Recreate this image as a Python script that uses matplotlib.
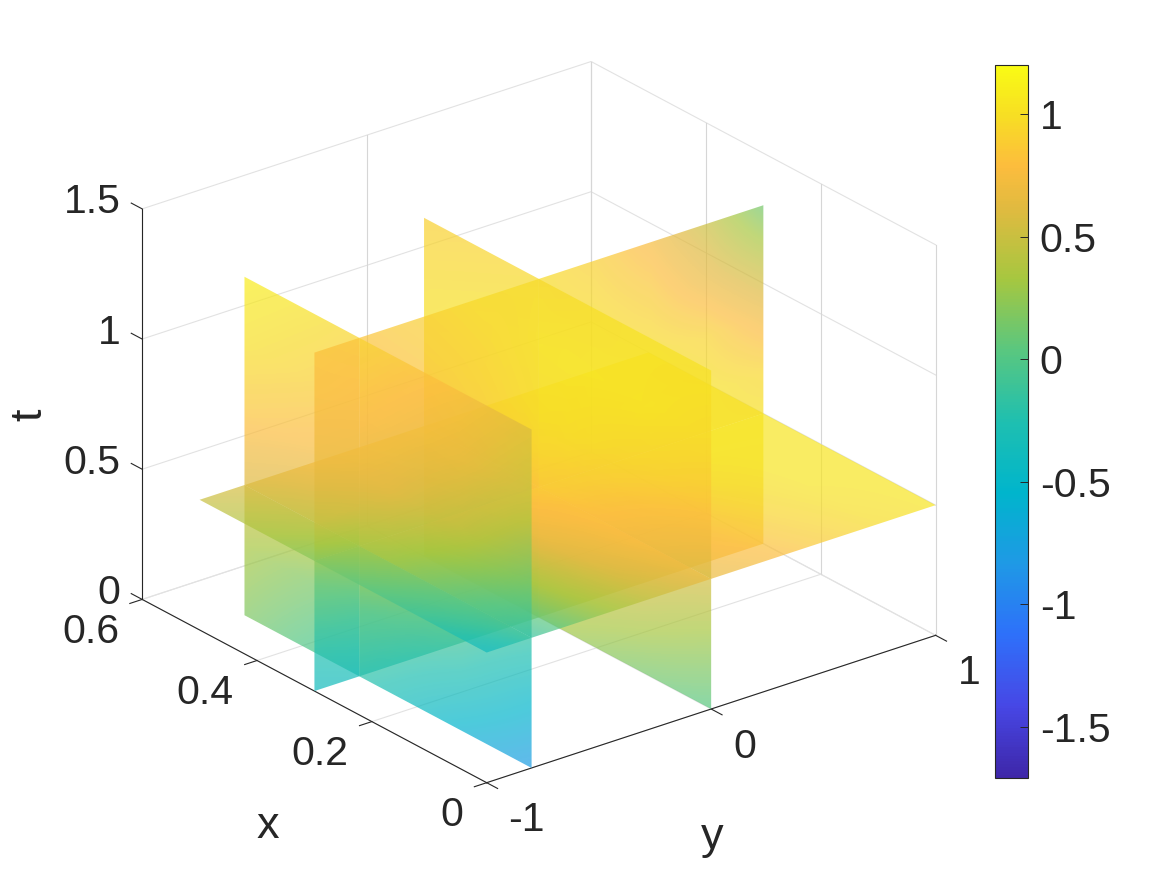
import numpy as np
import matplotlib
matplotlib.use('Agg')
import matplotlib.pyplot as plt
from matplotlib.colors import LinearSegmentedColormap, Normalize
from matplotlib.cm import ScalarMappable
from matplotlib.path import Path
from matplotlib.transforms import Affine2D
from mpl_toolkits.mplot3d import proj3d

plt.rcParams['font.family'] = ['Liberation Sans', 'DejaVu Sans']

# axis ticks
x_ticks = [0, 0.2, 0.4, 0.6]
x_labels = ['0', '0.2', '0.4', '0.6']
y_ticks = [-1, 0, 1]
y_labels = ['-1', '0', '1']
t_ticks = [0, 0.5, 1, 1.5]
t_labels = ['0', '0.5', '1', '1.5']
cbar_ticks = [-1.5, -1, -0.5, 0, 0.5, 1]
cbar_labels = ['-1.5', '-1', '-0.5', '0', '0.5', '1']
clim = (-1.71, 1.2)

# slice positions and the evenly spaced nodes the values were read at
x_slice = 0.3
y_slices = [-0.8, 0]
t_slice = 0.5
x_nodes = [0, 0.125, 0.25, 0.375, 0.5]
y_nodes = [-1, -0.75, -0.5, -0.25, 0, 0.25, 0.5, 0.75, 1]
t_nodes = [0, 0.26, 0.52, 0.78, 1.04, 1.3]
t_nodes_x = [0, 0.2167, 0.4333, 0.65, 0.8667, 1.0833, 1.3]

# t = 0.5, rows along x, columns along y
v_t = [[-0.40, -0.08, 0.25, 0.50, 0.68, 0.76, 0.88, 0.98, 1.04],
       [-0.12, 0.05, 0.35, 0.62, 0.78, 0.85, 0.95, 1.03, 1.05],
       [0.10, 0.22, 0.50, 0.74, 0.82, 0.95, 1.03, 1.05, 1.05],
       [0.32, 0.42, 0.64, 0.82, 0.95, 1.02, 1.05, 1.05, 1.05],
       [0.50, 0.58, 0.75, 0.92, 1.02, 1.05, 1.05, 1.05, 1.05]]

# x = 0.3, rows along t, columns along y
v_x = [[-0.40, -0.33, -0.22, -0.05, 0.25, 0.45, 0.62, 0.75, 0.85],
       [-0.18, -0.12, 0.00, 0.22, 0.50, 0.68, 0.80, 0.88, 0.93],
       [0.10, 0.20, 0.35, 0.55, 0.78, 0.92, 1.00, 1.02, 1.03],
       [0.50, 0.57, 0.66, 0.80, 0.93, 1.02, 1.05, 1.02, 0.95],
       [0.68, 0.72, 0.78, 0.88, 0.98, 1.03, 1.00, 0.92, 0.72],
       [0.76, 0.78, 0.84, 0.92, 1.00, 0.98, 0.88, 0.68, 0.45],
       [0.80, 0.84, 0.90, 0.97, 0.98, 0.90, 0.75, 0.50, 0.12]]

# y = -0.8, rows along t, columns along x
v_y1 = [[-0.82, -0.58, -0.30, -0.05, 0.18],
        [-0.52, -0.22, -0.02, 0.15, 0.33],
        [-0.15, 0.10, 0.35, 0.50, 0.62],
        [0.15, 0.42, 0.62, 0.75, 0.84],
        [0.42, 0.62, 0.76, 0.90, 1.00],
        [0.58, 0.76, 0.88, 1.00, 1.10]]

# y = 0, rows along t, columns along x
v_y2 = [[0.02, 0.15, 0.30, 0.42, 0.55],
        [0.28, 0.45, 0.58, 0.72, 0.80],
        [0.58, 0.72, 0.85, 0.95, 1.00],
        [0.82, 0.90, 0.98, 1.02, 1.02],
        [0.95, 1.02, 1.04, 1.02, 0.98],
        [1.02, 1.03, 0.98, 0.94, 0.90]]

parula = LinearSegmentedColormap.from_list('parula', [
    (0.00, (0.2422, 0.1504, 0.6603)),
    (0.10, (0.2780, 0.2800, 0.9000)),
    (0.20, (0.1800, 0.4400, 0.9800)),
    (0.30, (0.1200, 0.6000, 0.9000)),
    (0.40, (0.0000, 0.7100, 0.8000)),
    (0.50, (0.1200, 0.7500, 0.6900)),
    (0.60, (0.3500, 0.7800, 0.5000)),
    (0.70, (0.6500, 0.7800, 0.2500)),
    (0.80, (0.8800, 0.7300, 0.2500)),
    (0.86, (0.9900, 0.7400, 0.2400)),
    (0.93, (0.9700, 0.8700, 0.1400)),
    (1.00, (0.9760, 0.9840, 0.0800))])
norm = Normalize(*clim)

W, H = 1167, 875
fig = plt.figure(figsize=(W / 100, H / 100), dpi=100)

ax = fig.add_axes([87 / W, 1 / H, 880 / W, 880 / H], projection='3d')
ax.set_proj_type('ortho')
ax.set_xlim(0.6, 0)
ax.set_ylim(-1, 1)
ax.set_zlim(0, 1.5)
ax.set_box_aspect((0.977, 1, 0.753))
ax.view_init(elev=24.7, azim=-38.15)
ax.set_axis_off()
M = ax.get_proj()

# slices and labels go on a flat axes above the 3d one, in the same screen frame
over = fig.add_axes(ax.get_position(), facecolor='none')
over.set_axis_off()


def project(x, y, t):
    sx, sy, _ = proj3d.proj_transform(np.asarray(x, float), np.asarray(y, float),
                                      np.asarray(t, float), M)
    return sx, sy


def label3d(x, y, t, s, ha):
    sx, sy = project(x, y, t)
    over.text(float(sx), float(sy), s, ha=ha, va='center', fontsize=29.5, color=line_c,
              transform=ax.transData)


# grid on the back walls and the floor
grid_c = '#e2e2e2'
grid_v = '#d6d6d6'
grid_w = 0.8
for t in t_ticks:
    ax.plot([0.6, 0.6, 0], [-1, 1, 1], [t, t, t], color=grid_c, lw=grid_w)
for y in y_ticks:
    ax.plot([0.6, 0.6], [y, y], [0, 1.5], color=grid_v, lw=grid_w)
    ax.plot([0, 0.6], [y, y], [0, 0], color=grid_c, lw=grid_w)
for x in x_ticks:
    ax.plot([x, x], [1, 1], [0, 1.5], color=grid_v, lw=grid_w)
    ax.plot([x, x], [-1, 1], [0, 0], color=grid_c, lw=grid_w)

# axis lines and ticks
line_c = '#262626'
ax.plot([0, 0.6], [-1, -1], [0, 0], color=line_c, lw=0.8)
ax.plot([0, 0], [-1, 1], [0, 0], color=line_c, lw=0.8)
ax.plot([0.6, 0.6], [-1, -1], [0, 1.5], color=line_c, lw=0.8)
for x, s in zip(x_ticks, x_labels):
    ax.plot([x, x], [-1, -1.055], [0, 0], color=line_c, lw=0.8)
    label3d(x, -1.103, -0.096, s, 'right')
for y, s in zip(y_ticks, y_labels):
    ax.plot([0, -0.019], [y, y], [0, 0], color=line_c, lw=0.8)
    label3d(-0.038, y, -0.1, s, 'left')
for t, s in zip(t_ticks, t_labels):
    ax.plot([0.6, 0.619], [-1, -1], [t, t], color=line_c, lw=0.8)
    label3d(0.638, -1, t - 0.02, s, 'right')

fig.text(268 / W, 1 - 826 / H, 'x', ha='center', va='center', fontsize=32.5, color=line_c)
fig.text(712 / W, 1 - 838 / H, 'y', ha='center', va='center', fontsize=32.5, color=line_c)
fig.text(30 / W, 1 - 415 / H, 't', ha='center', va='center', rotation=90, fontsize=32.5, color=line_c)

# each slice is cut along the others, the pieces get painted back to front
pieces = []


def add_slice(to3d, u_nodes, v_nodes, vals, u_cuts, v_cuts):
    u0, u1 = u_nodes[0], u_nodes[-1]
    v0, v1 = v_nodes[0], v_nodes[-1]
    du = (u1 - u0) / (len(u_nodes) - 1)
    dv = (v1 - v0) / (len(v_nodes) - 1)
    ox, oy = project(*to3d(0, 0))
    ax_, ay_ = project(*to3d(1, 0))
    bx_, by_ = project(*to3d(0, 1))
    plane = Affine2D(np.array([[ax_ - ox, bx_ - ox, ox],
                               [ay_ - oy, by_ - oy, oy],
                               [0, 0, 1]], float))
    us = [u0] + u_cuts + [u1]
    vs = [v0] + v_cuts + [v1]
    for a, b in zip(us[:-1], us[1:]):
        for c, d in zip(vs[:-1], vs[1:]):
            centre = to3d((a + b) / 2, (c + d) / 2)
            pieces.append((centre, plane, (a, b, c, d), vals,
                           (u0 - du / 2, u1 + du / 2, v0 - dv / 2, v1 + dv / 2)))


add_slice(lambda u, v: (v, u, t_slice), y_nodes, x_nodes, v_t, y_slices, [x_slice])
add_slice(lambda u, v: (x_slice, u, v), y_nodes, t_nodes_x, v_x, y_slices, [t_slice])
add_slice(lambda u, v: (u, y_slices[0], v), x_nodes, t_nodes, v_y1, [x_slice], [t_slice])
add_slice(lambda u, v: (u, y_slices[1], v), x_nodes, t_nodes, v_y2, [x_slice], [t_slice])

centres = np.array([p[0] for p in pieces])
side_x = np.sign(np.round(centres[:, 0] - x_slice, 6))
side_y = np.sign(np.round(centres[:, 1] - y_slices[0], 6)) + np.sign(np.round(centres[:, 1] - y_slices[1], 6))
side_t = np.sign(np.round(centres[:, 2] - t_slice, 6))

for i in np.lexsort((side_t, -side_y, -side_x)):
    centre, plane, (a, b, c, d), vals, extent = pieces[i]
    trans = plane + ax.transData
    im = over.imshow(vals, origin='lower', extent=extent, aspect='auto', cmap=parula, norm=norm,
                     interpolation='bilinear', alpha=0.7, transform=trans)
    im.set_clip_path(Path([(a, c), (b, c), (b, d), (a, d), (a, c)]), trans)

cax = fig.add_axes([995 / W, 1 - 778 / H, 33 / W, 713 / H])
cbar = fig.colorbar(ScalarMappable(norm=norm, cmap=parula), cax=cax)
cbar.set_ticks(cbar_ticks)
cbar.set_ticklabels(cbar_labels)
cbar.ax.tick_params(direction='in', length=5.8, width=0.7, pad=8.5, labelsize=29.5,
                    color=line_c, labelcolor=line_c)
cbar.outline.set_edgecolor(line_c)
cbar.outline.set_linewidth(0.8)

fig.savefig('out.png', dpi=100)
